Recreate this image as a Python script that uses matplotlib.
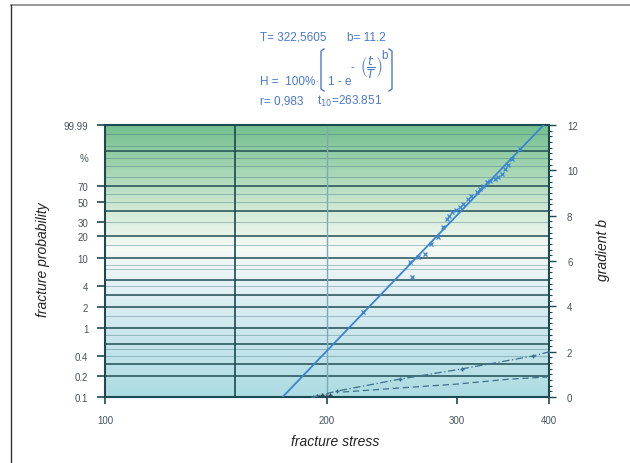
import numpy as np
import matplotlib
matplotlib.use("Agg")
import matplotlib.pyplot as plt
from matplotlib.colors import LinearSegmentedColormap
from matplotlib.lines import Line2D

plt.rcParams["font.family"] = ["Liberation Sans", "DejaVu Sans"]

# ------------------------------------------------------------
# data
# ------------------------------------------------------------
stress = [223.8, 259.1, 260.8, 266.0, 271.6, 277.0, 282.8, 287.0, 290.9, 293.0,
          295.5, 299.0, 302.9, 306.0, 310.6, 314.0, 319.4, 322.4, 326.0, 329.6,
          333.0, 337.9, 341.0, 345.4, 348.7, 352.0, 356.3, 365.3]
prob = [1.72, 8.86, 5.46, 10.5, 11.4, 15.5, 19.3, 26.0, 32.5, 35.5,
        39.2, 41.5, 44.5, 48.0, 53.6, 57.5, 62.2, 65.9, 70.0, 74.3,
        76.0, 77.8, 80.5, 83.1, 87.8, 91.0, 94.7, 98.4]

# fitted Weibull line (T = 322.5605, b = 11.2), end points
fit_stress = [174.1, 393.3]
fit_prob = [0.1, 99.99]

# gradient b curves (right axis)
gradA_stress = [191.4, 206.3, 251.2, 304.8, 380.5, 400.0]
gradA_b = [0.0, 0.26, 0.79, 1.24, 1.81, 1.99]
gradB_stress = [210.2, 261.6, 300.1, 354.1, 397.5]
gradB_b = [0.22, 0.44, 0.57, 0.79, 0.88]
gradC_stress = [194.0, 197.0, 199.5, 202.0]
gradC_b = [0.04, 0.07, 0.05, 0.09]

# grid / ticks
dark_lines = [0.2, 0.3, 0.6, 1, 2, 3, 5, 10, 20, 40, 70, 98]
light_lines = [0.4, 0.5, 0.8, 1.5, 4, 7, 8, 15, 30, 50, 60, 80, 90, 95, 99, 99.9]
ytick_vals = [0.1, 0.2, 0.4, 1, 2, 4, 10, 20, 30, 50, 70, 99.99]
ytick_labels = ["0.1", "0.2", "0.4", "1", "2", "4", "10", "20", "30", "50", "70", "99.99"]
xtick_vals = [100, 200, 300, 400]
b_ticks = [0, 2, 4, 6, 8, 10, 12]


def fwd(F):
    F = np.clip(np.asarray(F, dtype=float), 1e-6, 99.99999)
    return np.log(-np.log(1 - F / 100.0))


def inv(z):
    return 100.0 * (1 - np.exp(-np.exp(np.asarray(z, dtype=float))))


def px(x, y):
    # pixel position (from top-left) -> figure fraction
    return x / 630, 1 - y / 464


LABEL = "#46525e"
FRAME = "#1d4a50"
BLUE = "#3a84d2"
TXT_BLUE = "#4a78d0"

fig = plt.figure(figsize=(6.3, 4.64), dpi=100)
ax = fig.add_axes([105 / 630, 66 / 464, 444 / 630, 272 / 464])

ax.set_xscale("log")
ax.set_yscale("function", functions=(fwd, inv))

# background gradient
cmap = LinearSegmentedColormap.from_list("bg", [
    (0.0, "#acdce2"),
    (0.25, "#cde8ee"),
    (0.45, "#e8f3f6"),
    (0.55, "#f5faf5"),
    (0.70, "#cde8d2"),
    (1.0, "#74bf8e"),
])
grad = np.linspace(0, 1, 256).reshape(-1, 1)
ax.imshow(grad, cmap=cmap, origin="lower", extent=(0, 1, 0, 1),
          transform=ax.transAxes, aspect="auto", zorder=0)
ax.set_xlim(100, 400)
ax.set_ylim(0.1, 99.99)

for f in light_lines:
    ax.axhline(f, color="#3d6f78", lw=0.7, alpha=0.4, zorder=1)
for f in dark_lines:
    ax.axhline(f, color=FRAME, lw=1.2, alpha=0.9, zorder=1)
ax.axvline(150, color=FRAME, lw=1.2, zorder=1)
ax.axvline(200, color="#7fa9b5", lw=1.0, zorder=1)

# fit line and data
ax.plot(fit_stress, fit_prob, color=BLUE, lw=1.3, zorder=3)
ax.plot(stress, prob, ls="none", marker="x", ms=3.5, mew=0.9, color=BLUE, zorder=4)

for sp in ax.spines.values():
    sp.set_color(FRAME)
    sp.set_linewidth(1.5)

ax.set_xticks(xtick_vals)
ax.set_xticklabels([str(v) for v in xtick_vals])
ax.xaxis.set_minor_locator(matplotlib.ticker.NullLocator())
ax.set_yticks(ytick_vals)
ax.set_yticklabels(ytick_labels)
ax.yaxis.set_minor_locator(matplotlib.ticker.NullLocator())
ax.tick_params(axis="x", length=5, width=1.2, color=FRAME, pad=8,
               labelsize=7, labelcolor=LABEL)
ax.tick_params(axis="y", length=6, width=1.2, color=FRAME, pad=6,
               labelsize=7, labelcolor=LABEL)
ax.text(88 / 630, 95.2, "%", transform=matplotlib.transforms.blended_transform_factory(
        fig.transFigure, ax.transData),
        ha="right", va="center", fontsize=7, color=LABEL)

# right axis: gradient b
ax2 = ax.twinx()
ax2.set_ylim(0, 12)
ax2.patch.set_visible(False)
for sp in ax2.spines.values():
    sp.set_visible(False)
ax2.plot(gradA_stress, gradA_b, color="#3e6f8a", lw=0.9, ls=(0, (6, 2, 1, 2)),
         marker="+", ms=3, zorder=3)
ax2.plot(gradB_stress, gradB_b, color="#3e6f8a", lw=0.9, ls=(0, (5, 3)), zorder=3)
ax2.plot(gradC_stress, gradC_b, ls="none", marker="+", ms=3, color="#2e4a5a")
ax2.set_yticks(b_ticks)
ax2.set_yticklabels([str(v) for v in b_ticks])
ax2.yaxis.set_minor_locator(matplotlib.ticker.MultipleLocator(0.25))
ax2.tick_params(axis="y", which="major", length=5, width=1.0, color=FRAME,
                pad=8, labelsize=7, labelcolor=LABEL)
ax2.tick_params(axis="y", which="minor", length=2.5, width=0.8, color=FRAME)

# axis titles
fig.text(*px(43, 260), "fracture probability", rotation=90,
         ha="center", va="center", fontsize=10, style="italic", color="#222222")
fig.text(*px(603, 250), "gradient b", rotation=90,
         ha="center", va="center", fontsize=10, style="italic", color="#222222")
fig.text(*px(335, 442), "fracture stress",
         ha="center", va="center", fontsize=10, style="italic", color="#222222")

# parameter block
fs = 8.5
fig.text(*px(260, 38), "T= 322,5605", ha="left", va="center", fontsize=fs, color=TXT_BLUE)
fig.text(*px(347, 38), "b= 11.2", ha="left", va="center", fontsize=fs, color=TXT_BLUE)

fig.text(*px(260, 82), "H =  100%·", ha="left", va="center", fontsize=fs, color=TXT_BLUE)
fig.text(*px(328, 82), "1 - e", ha="left", va="center", fontsize=fs, color=TXT_BLUE)
fig.text(*px(352, 68), "-", ha="center", va="center", fontsize=fs, color=TXT_BLUE)
fig.text(*px(371, 67), r"$\left(\dfrac{t}{T}\right)$", ha="center", va="center",
         fontsize=fs, color=TXT_BLUE)
fig.text(*px(385, 56), "b", ha="center", va="center", fontsize=fs, color=TXT_BLUE)
# square brackets of the formula
for xs in ([324, 321, 321, 324], [389, 392, 392, 389]):
    fig.add_artist(Line2D([x / 630 for x in xs],
                          [1 - y / 464 for y in [50, 52, 90, 92]],
                          transform=fig.transFigure, color=TXT_BLUE, lw=1.0))

fig.text(*px(260, 101), "r= 0,983", ha="left", va="center", fontsize=fs, color=TXT_BLUE)
fig.text(*px(317, 101), r"t$_{10}$=263.851", ha="left", va="center",
         fontsize=fs, color=TXT_BLUE)

# outer frame of the scanned page
fig.add_artist(Line2D([11 / 630, 1], [1 - 6 / 464, 1 - 6 / 464],
                      transform=fig.transFigure, color="#888888", lw=1.2))
fig.add_artist(Line2D([11 / 630, 11 / 630], [0, 1 - 6 / 464],
                      transform=fig.transFigure, color="#333333", lw=1.0))

fig.savefig("out.png", dpi=100)
